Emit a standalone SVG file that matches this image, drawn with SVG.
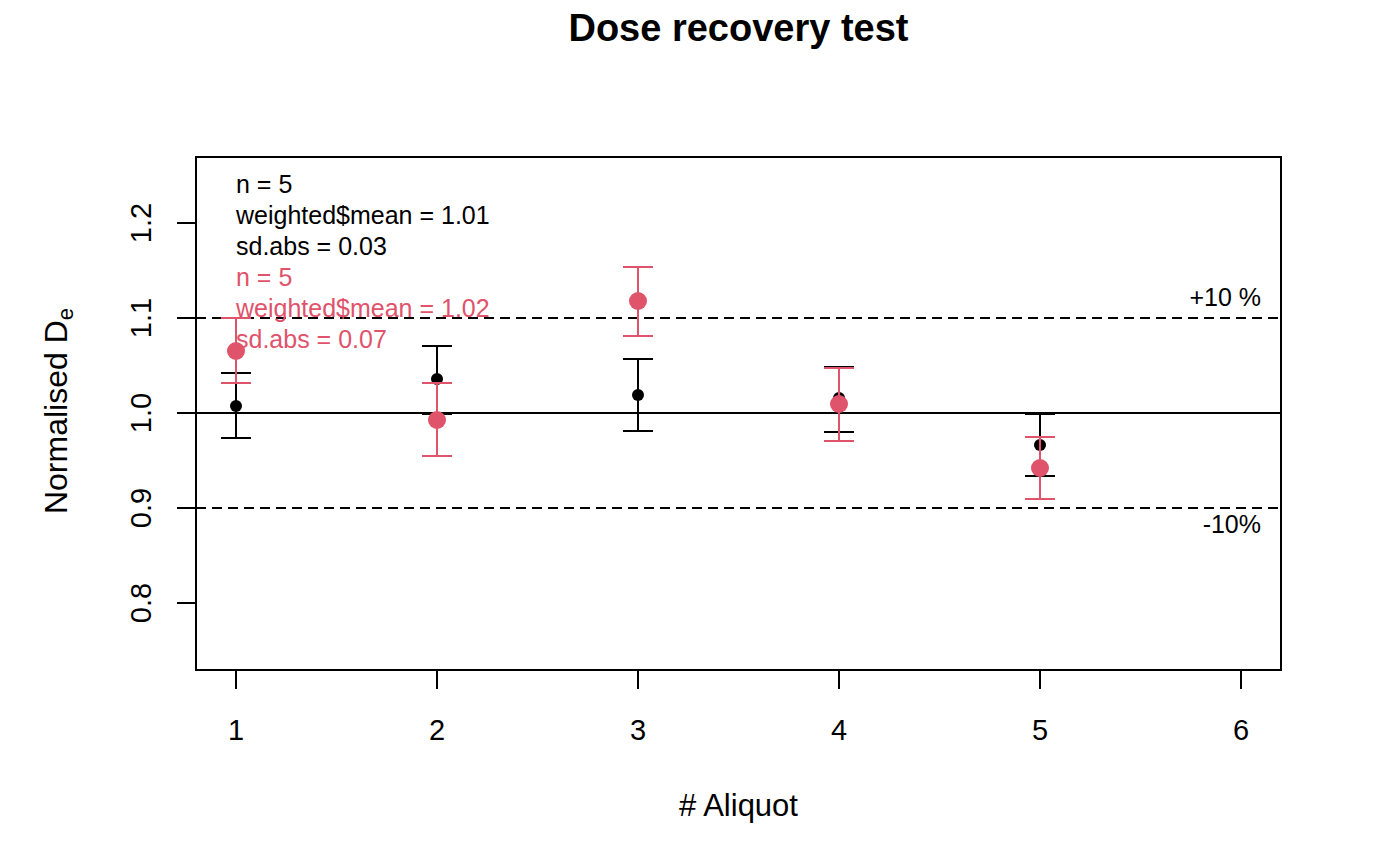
<svg xmlns="http://www.w3.org/2000/svg" width="1400" height="866" viewBox="0 0 1400 866">
<style>
text{font-family:"Liberation Sans",Arial,Helvetica,sans-serif;fill:#000}
.ax{stroke:#000;stroke-width:2;fill:none}
.blk{stroke:#000;stroke-width:2;fill:none}
.red{stroke:#DF536B;stroke-width:2;fill:none}
.dash{stroke:#000;stroke-width:2;stroke-dasharray:10 6;fill:none}
.tick{font-size:29px}
.leg{font-size:25px}
.rt{fill:#DF536B}
</style>
<rect width="1400" height="866" fill="#fff"/>
<text x="738.5" y="41" font-size="38" font-weight="bold" text-anchor="middle">Dose recovery test</text>

<g id="axes">
<rect class="ax" x="196" y="157" width="1085" height="513"/>
<path class="ax" d="M236 670V689M437 670V689M638 670V689M839 670V689M1040 670V689M1241 670V689"/>
<path class="ax" d="M196 223H177M196 318H177M196 413H177M196 508H177M196 603H177"/>
<g class="tick" text-anchor="middle">
<text x="236" y="740">1</text><text x="437" y="740">2</text><text x="638" y="740">3</text>
<text x="839" y="740">4</text><text x="1040" y="740">5</text><text x="1241" y="740">6</text>
</g>
<g class="tick" text-anchor="middle">
<text transform="translate(151 223) rotate(-90)">1.2</text>
<text transform="translate(151 318) rotate(-90)">1.1</text>
<text transform="translate(151 413) rotate(-90)">1.0</text>
<text transform="translate(151 508) rotate(-90)">0.9</text>
<text transform="translate(151 603) rotate(-90)">0.8</text>
</g>
<text x="738.5" y="816" font-size="31" text-anchor="middle"># Aliquot</text>
<text transform="translate(67 411) rotate(-90)" font-size="32" text-anchor="middle">Normalised D<tspan font-size="22" dy="6">e</tspan></text>
</g>

<g id="reference-lines">
<line class="blk" x1="196" y1="413" x2="1281" y2="413"/>
<line class="dash" x1="196" y1="318" x2="1281" y2="318"/>
<line class="dash" x1="196" y1="508" x2="1281" y2="508"/>
<text x="1261" y="306" font-size="25" text-anchor="end">+10 %</text>
<text x="1261" y="533" font-size="25" text-anchor="end">-10%</text>
</g>

<g id="legend" class="leg">
<text x="236" y="193">n = 5</text>
<text x="236" y="224">weighted$mean = 1.01</text>
<text x="236" y="255">sd.abs = 0.03</text>
<text class="rt" x="236" y="286">n = 5</text>
<text class="rt" x="236" y="317">weighted$mean = 1.02</text>
<text class="rt" x="236" y="348">sd.abs = 0.07</text>
</g>

<g id="series-black">
<path class="blk" d="M236 373V438M221 373H251M221 438H251"/>
<path class="blk" d="M437 346V414M422 346H452M422 414H452"/>
<path class="blk" d="M638 359V431M623 359H653M623 431H653"/>
<path class="blk" d="M839 367V432M824 367H854M824 432H854"/>
<path class="blk" d="M1040 414V476M1025 414H1055M1025 476H1055"/>
<g fill="#000">
<circle cx="236" cy="406" r="6"/><circle cx="437" cy="379" r="6"/><circle cx="638" cy="395" r="6"/>
<circle cx="839" cy="398" r="6"/><circle cx="1040" cy="445" r="6"/>
</g>
</g>

<g id="series-red">
<path class="red" d="M236 318V383M221 318H251M221 383H251"/>
<path class="red" d="M437 383V456M422 383H452M422 456H452"/>
<path class="red" d="M638 267V336M623 267H653M623 336H653"/>
<path class="red" d="M839 368V441M824 368H854M824 441H854"/>
<path class="red" d="M1040 437V499M1025 437H1055M1025 499H1055"/>
<g fill="#DF536B">
<circle cx="236" cy="351" r="9"/><circle cx="437" cy="420" r="9"/><circle cx="638" cy="301" r="9"/>
<circle cx="839" cy="404" r="9"/><circle cx="1040" cy="468" r="9"/>
</g>
</g>
</svg>
